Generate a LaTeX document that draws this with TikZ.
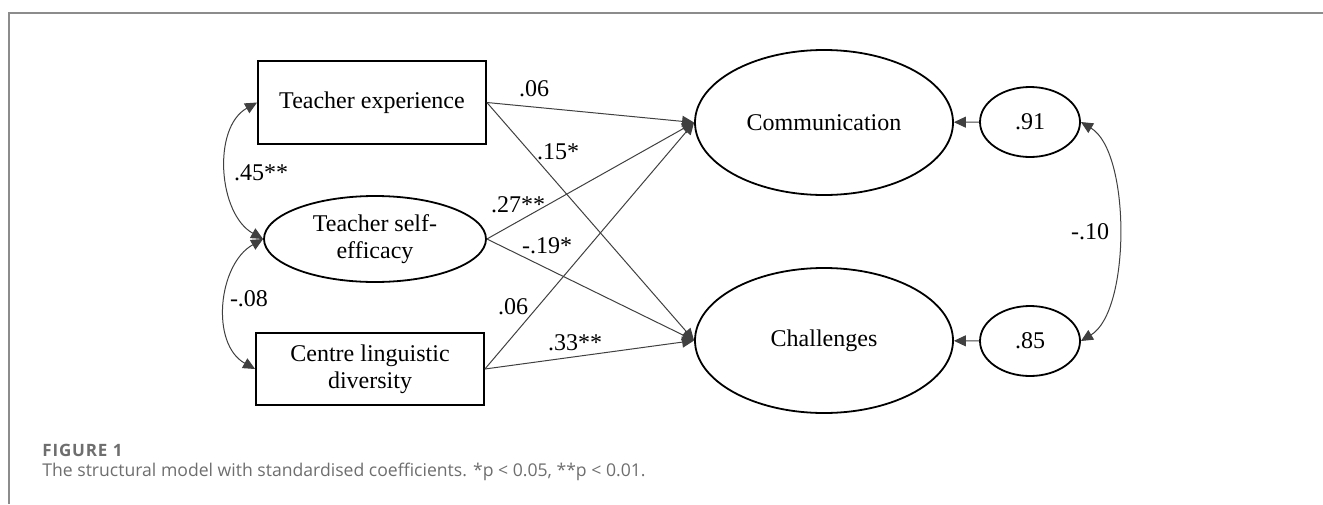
\documentclass[tikz,border=0pt]{standalone}
\usepackage{fontspec}
\setmainfont{Liberation Serif}
\newfontfamily\capfont{Open Sans}
\usetikzlibrary{arrows.meta,shapes.geometric}
\definecolor{framegray}{HTML}{8C8C8C}
\definecolor{capgray}{HTML}{6E6E6E}
\definecolor{pathgray}{HTML}{404040}

\begin{document}
\begin{tikzpicture}[x=0.5pt,y=-0.5pt,
  lbl/.style={font=\fontsize{12}{13.5}\selectfont,inner sep=1pt},
  obsbox/.style={draw=black,line width=0.9pt,align=center,inner sep=0pt,
    minimum width=114pt,font=\fontsize{12}{13.5}\selectfont},
  latent/.style={draw=black,ellipse,line width=0.9pt,align=center,inner sep=0pt,
    font=\fontsize{12}{13.5}\selectfont},
  resid/.style={latent,minimum width=50pt,minimum height=35pt},
  path/.style={draw=pathgray,line width=0.5pt,-{Triangle[length=6pt,width=5.5pt]}},
  cov/.style={draw=pathgray,line width=0.5pt,
    {Triangle[length=6pt,width=5.5pt]}-{Triangle[length=6pt,width=5.5pt]}}]
  \useasboundingbox (0,0) rectangle (1323,504);
  % frame
  \draw[framegray,line width=1pt] (9,504) -- (9,13) -- (1323,13);

  % exogenous
  \node[obsbox,minimum height=41.5pt] (exp) at (372,102.5) {Teacher experience};
  \node[latent,minimum width=111pt,minimum height=43pt] (eff) at (375,239)
    {Teacher self-\\efficacy};
  \node[obsbox,minimum height=36pt] (div) at (370,369)
    {Centre linguistic\\diversity};

  % outcomes
  \node[latent,minimum width=129pt,minimum height=72.5pt] (com) at (824,122.5) {Communication};
  \node[latent,minimum width=129pt,minimum height=72.5pt] (cha) at (824,340.5) {Challenges};
  \node[resid] (e1) at (1030,122) {.91};
  \node[resid] (e2) at (1030,341) {.85};

  % regressions
  \draw[path] (exp.east) -- (com.west);
  \draw[path] (exp.east) -- (cha.west);
  \draw[path] (eff.east) -- (com.west);
  \draw[path] (eff.east) -- (cha.west);
  \draw[path] (div.east) -- (com.west);
  \draw[path] (div.east) -- (cha.west);
  \draw[path] (e1) -- (com);
  \draw[path] (e2) -- (cha);

  % covariances
  \draw[cov] (exp.west) .. controls +(-45,25) and +(-45,-25) .. (eff.west);
  \draw[cov] (eff.west) .. controls +(-45,25) and +(-45,-25) .. (div.west);
  \draw[cov] (e1.east) .. controls +(50,30) and +(50,-30) .. (e2.east);

  % coefficients
  \node[lbl] (c1) at (534,89) {.06};
  \node[lbl] (c2) at (558,152) {.15*};
  \node[lbl] (c3) at (518,205) {.27**};
  \node[lbl] (c4) at (547,246) {-.19*};
  \node[lbl] (c5) at (513,307) {.06};
  \node[lbl] (c6) at (575,343) {.33**};
  \node[lbl] (c7) at (261,173) {.45**};
  \node[lbl] (c8) at (249,299) {-.08};
  \node[lbl] (c9) at (1090,232) {-.10};

  % caption
  \node[anchor=base west,inner sep=0pt,text=capgray,
    font=\capfont\addfontfeatures{LetterSpace=5}\fontsize{8.5}{9}\selectfont\bfseries]
    (fig) at (42,456) {FIGURE 1};
  \node[anchor=base west,inner sep=0pt,text=capgray,
    font=\capfont\fontsize{8.8}{11}\selectfont]
    (cap) at (42,476) {The structural model with standardised coefficients. *p < 0.05, **p < 0.01.};
\end{tikzpicture}
\end{document}
